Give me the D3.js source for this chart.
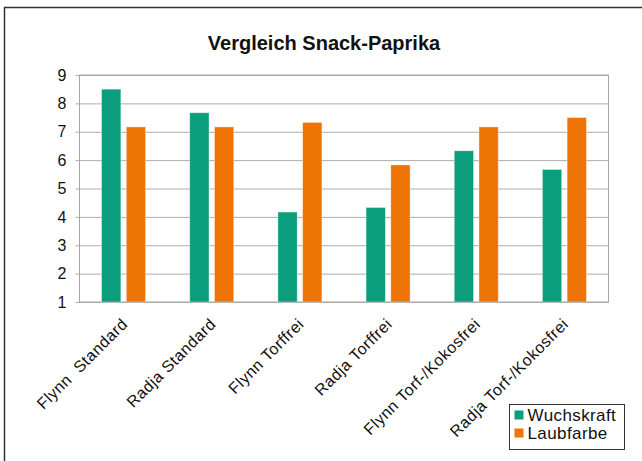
<!DOCTYPE html>
<html>
<head>
<meta charset="utf-8">
<script src="https://cdn.jsdelivr.net/npm/d3@7"></script>
<style>
  body { margin: 0; background: #fff; }
  svg { display: block; font-family: "Liberation Sans", Arial, Helvetica, sans-serif; }
</style>
</head>
<body>
<div id="container"></div>
<script>
/* DATA */
const categories = ["Flynn  Standard", "Radja Standard", "Flynn Torffrei", "Radja Torffrei", "Flynn Torf-/Kokosfrei", "Radja Torf-/Kokosfrei"];
const seriesNames = ["Wuchskraft", "Laubfarbe"];
const wuchskraft = [8.5, 7.67, 4.17, 4.33, 6.33, 5.67];
const laubfarbe = [7.17, 7.17, 7.33, 5.83, 7.17, 7.5];
const yTicks = [1, 2, 3, 4, 5, 6, 7, 8, 9];

/* CONSTANTS */
const width = 642;
const height = 461;
const plot = { left: 79.5, right: 608.5, top: 75, bottom: 302 };
const colors = { Wuchskraft: "#0a9e7c", Laubfarbe: "#ee7505" };

const data = categories.map((c, i) => ({
  cat: c,
  values: [
    { key: "Wuchskraft", value: wuchskraft[i] },
    { key: "Laubfarbe", value: laubfarbe[i] }
  ]
}));

const svg = d3.select("#container")
  .append("svg")
  .attr("width", width)
  .attr("height", height);

// outer frame
svg.append("rect")
  .attr("x", 4.5).attr("y", 7.5)
  .attr("width", 700).attr("height", 500)
  .attr("fill", "none")
  .attr("stroke", "#333")
  .attr("stroke-width", 1.5);

/* SCALES */
const xScale = d3.scaleBand()
  .domain(categories)
  .range([plot.left, plot.right]);

const xInner = d3.scaleBand()
  .domain(seriesNames)
  .range([xScale.bandwidth() / 2 - 22, xScale.bandwidth() / 2 + 22])
  .paddingInner(0.22);

const yScale = d3.scaleLinear()
  .domain([1, 9])
  .range([plot.bottom, plot.top]);

// title
svg.append("text")
  .attr("x", 324)
  .attr("y", 50)
  .attr("text-anchor", "middle")
  .style("font-size", "20px")
  .style("font-weight", "bold")
  .attr("fill", "#111")
  .text("Vergleich Snack-Paprika");

// gridlines + y axis
const yAxis = svg.append("g")
  .attr("transform", `translate(${plot.left},0)`)
  .call(d3.axisLeft(yScale)
    .tickValues(yTicks)
    .tickSize(-(plot.right - plot.left))
    .tickPadding(13)
    .tickFormat(d3.format("d")));

yAxis.select(".domain").remove();
yAxis.selectAll(".tick line")
  .attr("x1", -4)
  .attr("stroke", "#acacac");
yAxis.selectAll(".tick text")
  .style("font-size", "16px")
  .attr("fill", "#111");

// plot border
svg.append("rect")
  .attr("x", plot.left).attr("y", plot.top)
  .attr("width", plot.right - plot.left)
  .attr("height", plot.bottom - plot.top)
  .attr("fill", "none")
  .attr("stroke", "#a6a6a6");

// bars
svg.append("g")
  .selectAll("g")
  .data(data)
  .join("g")
  .attr("transform", d => `translate(${xScale(d.cat)},0)`)
  .selectAll("rect")
  .data(d => d.values)
  .join("rect")
  .attr("x", d => xInner(d.key))
  .attr("width", xInner.bandwidth())
  .attr("y", d => yScale(d.value))
  .attr("height", d => yScale(1) - yScale(d.value))
  .attr("fill", d => colors[d.key])
  .attr("stroke", "rgba(255,255,255,0.45)")
  .attr("stroke-width", 0.8);

// x labels
svg.append("g")
  .selectAll("text")
  .data(categories)
  .join("text")
  .attr("transform", d => `translate(${xScale(d) + xScale.bandwidth() / 2 - 3},${plot.bottom + 15}) rotate(-45)`)
  .attr("text-anchor", "end")
  .attr("dy", "0.71em")
  .style("font-size", "16px")
  .style("letter-spacing", "0.5px")
  .style("white-space", "pre")
  .attr("fill", "#111")
  .text(d => d);

// legend
const legend = svg.append("g").attr("transform", "translate(509.5,404.5)");
legend.append("rect")
  .attr("width", 115).attr("height", 45)
  .attr("fill", "#fff")
  .attr("stroke", "#333");

legend.selectAll("g")
  .data(seriesNames)
  .join("g")
  .attr("transform", (d, i) => `translate(5,${6 + i * 18})`)
  .call(g => g.append("rect")
    .attr("width", 9).attr("height", 9)
    .attr("fill", d => colors[d]))
  .call(g => g.append("text")
    .attr("x", 13)
    .attr("y", 10)
    .style("font-size", "17px")
    .style("letter-spacing", "0.4px")
    .attr("fill", "#111")
    .text(d => d));
</script>
</body>
</html>
